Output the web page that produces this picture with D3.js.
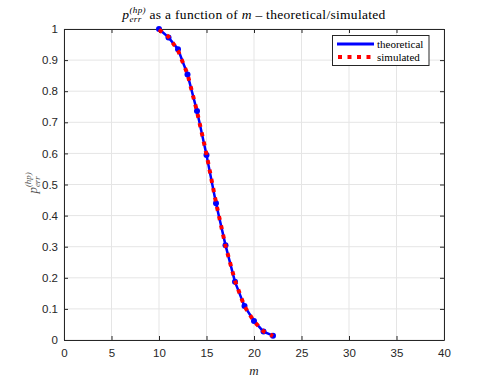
<!DOCTYPE html>
<html><head><meta charset="utf-8">
<script src="https://cdn.jsdelivr.net/npm/d3@7"></script>
<style>body{margin:0;background:#fff}svg{display:block}</style>
</head><body><svg id="c" width="491" height="382"></svg>
<script>
const mValues = [10,11,12,13,14,15,16,17,18,19,20,21,22];
const theoretical = [1.0,0.973,0.935,0.854,0.736,0.595,0.44,0.305,0.187,0.109,0.061,0.027,0.014];
const simulated = [0.998,0.975,0.931,0.855,0.735,0.597,0.442,0.303,0.19,0.108,0.06,0.028,0.013];
const xTicks = [0,5,10,15,20,25,30,35,40];
const yTicks = [0,0.1,0.2,0.3,0.4,0.5,0.6,0.7,0.8,0.9,1];
const legendLabels = ["theoretical","simulated"];

const svg = d3.select("#c");
const L=64,R=444,T=29,B=340;
const x = d3.scaleLinear().domain([0,40]).range([L,R]);
const y = d3.scaleLinear().domain([0,1]).range([B,T]);
const axisCol="#262626", gridCol="#e5e5e5";
const sans="'Liberation Sans', Arial, sans-serif", serif="'Liberation Serif','DejaVu Serif',serif";

// grid
svg.append("g").selectAll("line").data(xTicks).join("line")
 .attr("x1",d=>x(d)).attr("x2",d=>x(d)).attr("y1",T).attr("y2",B).attr("stroke",gridCol).attr("stroke-width",1);
svg.append("g").selectAll("line").data(yTicks).join("line")
 .attr("y1",d=>y(d)).attr("y2",d=>y(d)).attr("x1",L).attr("x2",R).attr("stroke",gridCol).attr("stroke-width",1);

// axes
const ax = svg.append("g").attr("transform",`translate(0,${B})`).call(d3.axisBottom(x).tickValues(xTicks).tickSizeInner(-4).tickSizeOuter(0).tickPadding(9));
const axT = svg.append("g").attr("transform",`translate(0,${T})`).call(d3.axisTop(x).tickValues(xTicks).tickSizeInner(-4).tickSizeOuter(0).tickFormat(""));
const ay = svg.append("g").attr("transform",`translate(${L},0)`).call(d3.axisLeft(y).tickValues(yTicks).tickSizeInner(-4).tickSizeOuter(0).tickPadding(6).tickFormat(d3.format("~g")));
const ayR = svg.append("g").attr("transform",`translate(${R},0)`).call(d3.axisRight(y).tickValues(yTicks).tickSizeInner(-4).tickSizeOuter(0).tickFormat(""));
[ax,axT,ay,ayR].forEach(g=>{
  g.selectAll("path").attr("stroke",axisCol).attr("stroke-width",1);
  g.selectAll("line").attr("stroke",axisCol);
  g.selectAll("text").attr("fill",axisCol).style("font-family",sans).style("font-size","11.5px");
});

// lines
const line = d3.line().x((d,i)=>x(mValues[i])).y(d=>y(d));
svg.append("path").datum(theoretical).attr("d",line).attr("fill","none").attr("stroke","#0000ff").attr("stroke-width",2.5);
svg.append("g").selectAll("circle").data(theoretical).join("circle")
 .attr("cx",(d,i)=>x(mValues[i])).attr("cy",d=>y(d)).attr("r",3).attr("fill","#0000ff");
svg.append("path").datum(simulated).attr("d",line).attr("fill","none").attr("stroke","#ff0000").attr("stroke-width",4).attr("stroke-dasharray","4,5.5");

// legend
const lg = svg.append("g");
lg.append("rect").attr("x",332.5).attr("y",35.5).attr("width",96.5).attr("height",30).attr("fill","#fff").attr("stroke",axisCol).attr("stroke-width",1);
lg.append("line").attr("x1",337).attr("x2",374).attr("y1",44).attr("y2",44).attr("stroke","#0000ff").attr("stroke-width",3);
lg.append("line").attr("x1",338).attr("x2",374).attr("y1",57).attr("y2",57).attr("stroke","#ff0000").attr("stroke-width",4).attr("stroke-dasharray","4,5.5");
lg.selectAll("text").data(legendLabels).join("text").attr("x",377).attr("y",(d,i)=>48+i*13)
 .text(d=>d).style("font-family",serif).style("font-size","11px").attr("fill","#000");

// p_err^(hp) with stacked sub/superscript
function pErr(sel, fs, trail){
  sel.append("tspan").text("p").style("font-style","italic");
  const sub = sel.append("tspan").text("err").attr("dy",3).style("font-size",(fs*0.68)+"px").style("font-style","italic");
  const w = sub.node().getComputedTextLength();
  sel.append("tspan").text("(hp)").attr("dx",-w).attr("dy",-9).style("font-size",(fs*0.68)+"px").style("font-style","italic");
  if (trail) sel.append("tspan").attr("dy",6).text("\u00a0");
}

// title
const tfs=13.5;
const t = svg.append("text").attr("x",254).attr("y",19).attr("text-anchor","middle").style("font-family",serif).style("font-size",tfs+"px").attr("fill","#000").style("letter-spacing","0.3px");
pErr(t, tfs, true);
t.append("tspan").text("as a function of ");
t.append("tspan").text("m").style("font-style","italic");
t.append("tspan").text(" \u2013 theoretical/simulated");

// x label
svg.append("text").attr("x",254).attr("y",375).attr("text-anchor","middle").style("font-family",serif).style("font-style","italic").style("font-size","13px").attr("fill",axisCol).text("m");

// y label
const yl = svg.append("text").attr("transform","translate(37,183) rotate(-90)").attr("text-anchor","middle").style("font-family",serif).style("font-size","13px").attr("fill","#555");
pErr(yl, 13, false);
</script></body></html>
